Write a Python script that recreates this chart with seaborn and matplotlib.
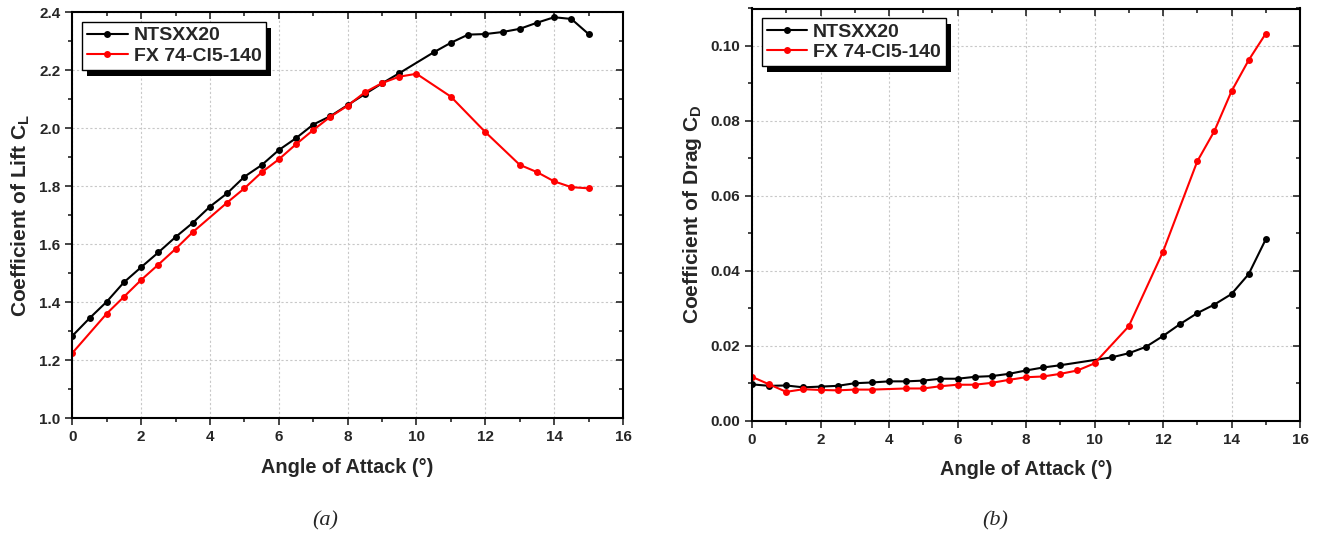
import numpy as np
import pandas as pd
import seaborn as sns
from matplotlib import pyplot as plt
from matplotlib.patches import Rectangle
from matplotlib.ticker import MultipleLocator, FormatStrFormatter

# lift curves (a)
aoa_lift_nts = [0, 0.5, 1, 1.5, 2, 2.5, 3, 3.5, 4, 4.5, 5, 5.5, 6, 6.5, 7, 7.5, 8, 8.5, 9, 9.5,
                10.5, 11, 11.5, 12, 12.5, 13, 13.5, 14, 14.5, 15]
cl_nts = [1.284, 1.345, 1.402, 1.469, 1.521, 1.572, 1.625, 1.674, 1.730, 1.776, 1.833, 1.873,
          1.925, 1.966, 2.013, 2.042, 2.080, 2.118, 2.155, 2.190,
          2.262, 2.295, 2.323, 2.325, 2.332, 2.343, 2.364, 2.383, 2.377, 2.325]
aoa_lift_fx = [0, 1, 1.5, 2, 2.5, 3, 3.5, 4.5, 5, 5.5, 6, 6.5, 7, 7.5, 8, 8.5, 9, 9.5, 10,
               11, 12, 13, 13.5, 14, 14.5, 15]
cl_fx = [1.225, 1.361, 1.419, 1.477, 1.530, 1.584, 1.642, 1.744, 1.793, 1.848, 1.893, 1.945,
         1.994, 2.040, 2.078, 2.124, 2.156, 2.178, 2.188, 2.109, 1.987, 1.874, 1.849, 1.817,
         1.797, 1.793]

# drag curves (b)
aoa_drag_nts = [0, 0.5, 1, 1.5, 2, 2.5, 3, 3.5, 4, 4.5, 5, 5.5, 6, 6.5, 7, 7.5, 8, 8.5, 9,
                10.5, 11, 11.5, 12, 12.5, 13, 13.5, 14, 14.5, 15]
cd_nts = [0.0097, 0.0093, 0.0094, 0.0089, 0.0091, 0.0093, 0.0100, 0.0102, 0.0105, 0.0105,
          0.0107, 0.0112, 0.0112, 0.0117, 0.0119, 0.0125, 0.0134, 0.0142, 0.0148,
          0.0169, 0.0180, 0.0197, 0.0226, 0.0258, 0.0287, 0.0310, 0.0338, 0.0391, 0.0484]
aoa_drag_fx = [0, 0.5, 1, 1.5, 2, 2.5, 3, 3.5, 4.5, 5, 5.5, 6, 6.5, 7, 7.5, 8, 8.5, 9, 9.5, 10,
               11, 12, 13, 13.5, 14, 14.5, 15]
cd_fx = [0.0117, 0.0097, 0.0077, 0.0084, 0.0082, 0.0081, 0.0083, 0.0083, 0.0086, 0.0086,
         0.0092, 0.0096, 0.0096, 0.0101, 0.0109, 0.0116, 0.0118, 0.0125, 0.0134, 0.0153,
         0.0252, 0.0451, 0.0692, 0.0773, 0.0879, 0.0962, 0.1033]

series_names = ["NTSXX20", "FX 74-Cl5-140"]
series_colors = ["black", "#ff0000"]

sns.set_style("ticks")
plt.rcParams["font.family"] = ["Liberation Sans", "DejaVu Sans"]
plt.rcParams["font.weight"] = "bold"
plt.rcParams["mathtext.fontset"] = "custom"
plt.rcParams["mathtext.rm"] = "Liberation Sans:bold"
plt.rcParams["mathtext.default"] = "rm"

fig = plt.figure(figsize=(13.22, 5.44), dpi=100)
W, H = 1322, 544
ax1 = fig.add_axes([72.3 / W, 1 - 418.3 / H, (623 - 72.3) / W, (418.3 - 12.3) / H])
ax2 = fig.add_axes([752 / W, 1 - 420.7 / H, (1300 - 752) / W, (420.7 - 8.5) / H])


def draw(ax, xs_list, ys_list):
    for xs, ys, name, col in zip(xs_list, ys_list, series_names, series_colors):
        d = pd.DataFrame({"x": xs, "y": ys})
        sns.lineplot(data=d, x="x", y="y", ax=ax, color=col, marker="o", markersize=5,
                     markeredgewidth=0, linewidth=1.5, label=name, sort=False)


draw(ax1, [aoa_lift_nts, aoa_lift_fx], [cl_nts, cl_fx])
draw(ax2, [aoa_drag_nts, aoa_drag_fx], [cd_nts, cd_fx])

ax1.set_ylim(1.0, 2.4)
ax1.yaxis.set_major_locator(MultipleLocator(0.2))
ax1.yaxis.set_minor_locator(MultipleLocator(0.1))
ax1.yaxis.set_major_formatter(FormatStrFormatter("%.1f"))
ax1.set_ylabel("Coefficient of Lift C$_{L}$", fontsize=15, fontweight="bold", labelpad=5)

ax2.set_ylim(0, 0.11)
ax2.yaxis.set_major_locator(MultipleLocator(0.02))
ax2.yaxis.set_minor_locator(MultipleLocator(0.01))
ax2.yaxis.set_major_formatter(FormatStrFormatter("%.2f"))
ax2.set_ylabel("Coefficient of Drag C$_{D}$", fontsize=15, fontweight="bold", labelpad=5)

legends = []
for ax in (ax1, ax2):
    ax.set_xlim(0, 16)
    ax.xaxis.set_major_locator(MultipleLocator(2))
    ax.xaxis.set_minor_locator(MultipleLocator(1))
    ax.set_xlabel("Angle of Attack (°)", fontsize=14.3, fontweight="bold", labelpad=10)
    ax.grid(True, which="major", linestyle=(0, (2, 2)), color="#c8c8c8", linewidth=0.8)
    for s in ax.spines.values():
        s.set_visible(True)
        s.set_linewidth(1.5)
        s.set_color("black")
    ax.tick_params(which="both", top=True, right=True, width=1.2, labelsize=11,
                   direction="out")
    ax.tick_params(which="major", length=5)
    ax.tick_params(which="minor", length=3)
    for lab in ax.get_xticklabels() + ax.get_yticklabels():
        lab.set_fontweight("bold")
    leg = ax.legend(loc="upper left", frameon=True, fancybox=False, edgecolor="black",
                    framealpha=1, fontsize=14, handlelength=2.1, handletextpad=0.3,
                    borderpad=0.25, labelspacing=0.15, borderaxespad=0.5)
    leg.get_frame().set_linewidth(1.0)
    for t in leg.get_texts():
        t.set_fontweight("bold")
    legends.append((ax, leg))

# top/right ticks point inward, bottom/left outward
for ax in (ax1, ax2):
    for t in ax.xaxis.get_major_ticks() + ax.xaxis.get_minor_ticks():
        t.tick2line.set_marker(3)
    for t in ax.yaxis.get_major_ticks() + ax.yaxis.get_minor_ticks():
        t.tick2line.set_marker(0)

fig.text(325 / W, 1 - 521 / H, "(a)", fontsize=16, fontstyle="italic", fontweight="normal",
         family="Liberation Serif", ha="center", va="center")
fig.text(995 / W, 1 - 521 / H, "(b)", fontsize=16, fontstyle="italic", fontweight="normal",
         family="Liberation Serif", ha="center", va="center")

# solid black drop shadow behind each legend
fig.canvas.draw()
for ax, leg in legends:
    bb = leg.get_window_extent()
    ax.add_patch(Rectangle((bb.x0 + 5, bb.y0 - 6), bb.width, bb.height, transform=None,
                           facecolor="black", edgecolor="none", zorder=4.9, clip_on=False))

fig.savefig("out.png", dpi=100)
